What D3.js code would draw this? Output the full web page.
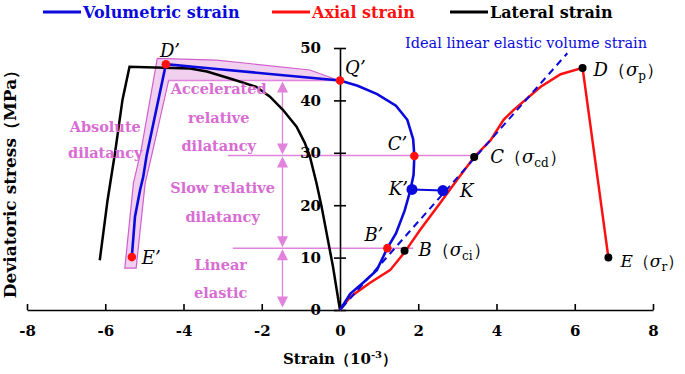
<!DOCTYPE html>
<html lang="en">
<head>
  <meta charset="UTF-8">
  <title>Deviatoric stress - strain</title>
  <style>
    body { margin: 0; background: #fff; }
    .axis text { font-size: 15px; font-weight: bold; fill: #000; }
    .axis path, .axis line { stroke: #000; stroke-width: 1.6; }
    .pink { fill: #d86cd3; font-weight: bold; font-size: 14.5px; text-anchor: middle; }
    .lbl { font-size: 18px; fill: #000; }
  </style>
</head>
<body>
  <script src="https://d3js.org/d3.v7.min.js"></script>
  <script>
    // tick labels
    const xTicks = [-8, -6, -4, -2, 0, 2, 4, 6, 8];
    const yTicks = [0, 10, 20, 30, 40, 50];

    // curves: [strain (10^-3), deviatoric stress (MPa)]
    const volumetric = [[0,0],[0.26,3.1],[0.59,5.2],[0.94,7.6],[1.21,11.8],[1.43,14.6],[1.65,18.9],[1.8,22.9],
      [1.88,25.8],[1.9,29.4],[1.87,32.6],[1.72,36.3],[1.43,39.0],[0.95,41.2],[0.45,42.8],[0,43.8],
      [-1.45,44.8],[-3.15,46.0],[-4.45,46.9],[-4.94,29.6],[-5.03,25.4],[-5.11,22.9],[-5.24,17.8],[-5.32,10.2]];
    const axial = [[0,0],[0.26,2.5],[0.77,5.2],[1.28,7.6],[1.65,11.0],[2.05,15.3],[2.56,20.4],[2.99,24.8],[3.43,29.2],
      [3.85,32.4],[4.18,36.3],[4.44,38.2],[5.13,42.6],[5.64,45.0],[6.2,46.2],[6.86,10.0]];
    const lateral = [[-6.14,9.5],[-5.94,21],[-5.75,30.0],[-5.56,40.1],[-5.38,46.4],[-3.83,46.1],[-3.4,45.5],[-2.73,44.0],
      [-2.14,42.6],[-1.79,40.7],[-1.46,38.2],[-1.11,35],[-0.9,31.9],[-0.77,29.3],[-0.6,24.2],[-0.47,19.7],
      [-0.31,13.4],[-0.18,8.3],[-0.07,3.2],[0,0]];
    const ideal = [[0.05,0.4],[5.81,49]];
    // envelope drawn round the absolute dilatancy part
    const band = [[-5.5,8.0],[-5.28,24.2],[-5.09,30.2],[-4.67,48.0],[-3.15,47.7],[-0.77,45.8],[-0.03,43.8],
      [-4.38,43.8],[-4.81,29.6],[-4.98,24.2],[-5.21,8.0]];

    // key points
    const redPoints = [
      {name: "D’", p: [-4.45,46.9]}, {name: "Q’", p: [0,43.8]}, {name: "C’", p: [1.9,29.4]},
      {name: "B’", p: [1.21,11.8]}, {name: "E’", p: [-5.32,10.1]}];
    const blackPoints = [
      {name: "B", sub: "ci", p: [1.65,11.3]}, {name: "C", sub: "cd", p: [3.43,29.2]},
      {name: "D", sub: "p", p: [6.2,46.2]}, {name: "E", sub: "r", p: [6.86,10.0]}];
    const kPoints = [[1.84,23.0],[2.63,22.8]];

    // stage boundaries
    const stageStress = [43.8, 29.5, 11.8, 0.3];
    const stageLines = [{y: 43.8, x0: -4.4, x1: 0}, {y: 29.5, x0: -2.87, x1: 3.43}, {y: 11.8, x0: -2.74, x1: 1.87}];
    const arrowStrain = -1.47;

    const W = 685, H = 374;
    const svg = d3.select('body').append('svg').attr('width', W).attr('height', H)
      .style('font-family', "'DejaVu Serif', serif");

    const x = d3.scaleLinear().domain([-8, 8]).range([27, 653]);
    const y = d3.scaleLinear().domain([0, 50]).range([310, 48]);
    const line = d3.line().x(d => x(d[0])).y(d => y(d[1]));

    const PINK = '#d86cd3', PINKLINE = '#e183dc', BLUE = '#0a0adc', RED = '#ff1010';

    // band
    svg.append('path').attr('d', line(band) + 'Z')
      .attr('fill', '#f1d0ef').attr('stroke', '#cf5fcf').attr('stroke-width', 1.2);

    // stage lines
    svg.selectAll('.stage').data(stageLines).enter().append('line')
      .attr('x1', d => x(d.x0)).attr('x2', d => x(d.x1))
      .attr('y1', d => y(d.y)).attr('y2', d => y(d.y))
      .attr('stroke', PINKLINE).attr('stroke-width', 1.5);

    // double arrows
    const ax = x(arrowStrain);
    for (let i = 0; i < stageStress.length - 1; i++) {
      const yt = y(stageStress[i]) + 1, yb = y(stageStress[i + 1]) - 1;
      svg.append('line').attr('x1', ax).attr('x2', ax).attr('y1', yt + 8).attr('y2', yb - 8)
        .attr('stroke', PINKLINE).attr('stroke-width', 1.3);
      svg.append('path').attr('d', `M${ax},${yt} L${ax - 5.5},${yt + 11} L${ax + 5.5},${yt + 11} Z`).attr('fill', PINKLINE);
      svg.append('path').attr('d', `M${ax},${yb} L${ax - 5.5},${yb - 11} L${ax + 5.5},${yb - 11} Z`).attr('fill', PINKLINE);
    }

    // axes
    const xAxis = d3.axisBottom(x).tickValues(xTicks).tickFormat(d => String(d))
      .tickSizeInner(-6).tickSizeOuter(0).tickPadding(15);
    svg.append('g').attr('class', 'axis x').attr('transform', `translate(0,${y(0)})`).call(xAxis)
      .attr('font-family', null);
    const yAxis = d3.axisLeft(y).tickValues(yTicks).tickSize(6).tickSizeOuter(0).tickPadding(13);
    const gy = svg.append('g').attr('class', 'axis y').attr('transform', `translate(${x(0)},0)`).call(yAxis)
      .attr('font-family', null);
    gy.selectAll('.tick line').attr('x1', 6);

    // curves
    svg.append('path').attr('d', line(lateral)).attr('fill', 'none').attr('stroke', '#000').attr('stroke-width', 2.5);
    svg.append('path').attr('d', line(axial)).attr('fill', 'none').attr('stroke', RED).attr('stroke-width', 2.5);
    svg.append('path').attr('d', line(ideal)).attr('fill', 'none').attr('stroke', BLUE)
      .attr('stroke-width', 2).attr('stroke-dasharray', '7,5');
    svg.append('path').attr('d', line(volumetric)).attr('fill', 'none').attr('stroke', BLUE).attr('stroke-width', 2.6);
    svg.append('path').attr('d', line(kPoints)).attr('fill', 'none').attr('stroke', BLUE).attr('stroke-width', 2);

    // dots
    svg.selectAll('.kdot').data(kPoints).enter().append('circle')
      .attr('cx', d => x(d[0])).attr('cy', d => y(d[1])).attr('r', 5.5).attr('fill', BLUE);
    svg.selectAll('.rdot').data(redPoints).enter().append('circle')
      .attr('cx', d => x(d.p[0])).attr('cy', d => y(d.p[1])).attr('r', 4.3).attr('fill', RED);
    svg.selectAll('.bdot').data(blackPoints).enter().append('circle')
      .attr('cx', d => x(d.p[0])).attr('cy', d => y(d.p[1])).attr('r', 4).attr('fill', '#000');

    // point labels
    const redOffsets = {"D’": [-6, -7, 'start'], "Q’": [5, -6, 'start'], "C’": [-7, -6, 'end'],
      "B’": [-4, -7, 'end'], "E’": [10, 7, 'start']};
    svg.selectAll('.rlbl').data(redPoints).enter().append('text').attr('class', 'lbl')
      .attr('x', d => x(d.p[0]) + redOffsets[d.name][0]).attr('y', d => y(d.p[1]) + redOffsets[d.name][1])
      .attr('text-anchor', d => redOffsets[d.name][2]).style('font-style', 'italic').text(d => d.name);
    svg.append('text').attr('class', 'lbl').style('font-style', 'italic').attr('text-anchor', 'end')
      .attr('x', x(kPoints[0][0]) - 4).attr('y', y(kPoints[0][1]) + 6).text('K’');
    svg.append('text').attr('class', 'lbl').style('font-style', 'italic')
      .attr('x', x(kPoints[1][0]) + 17).attr('y', y(kPoints[1][1]) + 6).text('K');

    const blackOffsets = {B: [14, 5], C: [16, 6], D: [11, 8], E: [12, 9]};
    blackPoints.forEach(d => {
      const t = svg.append('text').attr('class', 'lbl')
        .attr('x', x(d.p[0]) + blackOffsets[d.name][0]).attr('y', y(d.p[1]) + blackOffsets[d.name][1]);
      if (d.name === 'E') t.style('font-size', '17px');
      t.append('tspan').style('font-style', 'italic').text(d.name);
      t.append('tspan').text('（');
      t.append('tspan').style('font-style', 'italic').text('σ');
      t.append('tspan').attr('dy', 4).style('font-size', '12px').text(d.sub);
      t.append('tspan').attr('dy', -4).text('）');
    });

    // stage texts
    const pinkText = [
      ['Absolute', -6.0, 127], ['dilatancy', -6.0, 153],
      ['Accelerated', -3.1, 89], ['relative', -3.1, 118], ['dilatancy', -3.1, 146],
      ['Slow relative', -3.0, 188], ['dilatancy', -3.0, 217],
      ['Linear', -3.05, 265], ['elastic', -3.05, 293]];
    svg.selectAll('.ptxt').data(pinkText).enter().append('text').attr('class', 'pink')
      .attr('x', d => x(d[1])).attr('y', d => d[2] + 5).text(d => d[0]);

    svg.append('text').attr('x', 405).attr('y', 48).style('font-size', '14.5px').attr('fill', BLUE)
      .text('Ideal linear elastic volume strain');

    // legend
    const legend = [['Volumetric strain', BLUE, 43], ['Axial strain', RED, 272], ['Lateral strain', '#000', 450]];
    legend.forEach(([name, color, lx]) => {
      svg.append('line').attr('x1', lx).attr('x2', lx + 38).attr('y1', 12).attr('y2', 12)
        .attr('stroke', color).attr('stroke-width', 3);
      svg.append('text').attr('x', lx + 40).attr('y', 18).attr('fill', color)
        .style('font-size', '16px').style('font-weight', 'bold').text(name);
    });

    // axis titles
    const xt = svg.append('text').attr('x', x(0)).attr('y', 364).attr('text-anchor', 'middle')
      .style('font-size', '15px').style('font-weight', 'bold');
    xt.append('tspan').text('Strain（10');
    xt.append('tspan').attr('dy', -6).style('font-size', '10px').text('-3');
    xt.append('tspan').attr('dy', 6).text('）');

    svg.append('text').attr('transform', 'translate(16,180) rotate(-90)').attr('text-anchor', 'middle')
      .style('font-size', '17px').style('font-weight', 'bold').text('Deviatoric stress（MPa）');
  </script>
</body>
</html>
